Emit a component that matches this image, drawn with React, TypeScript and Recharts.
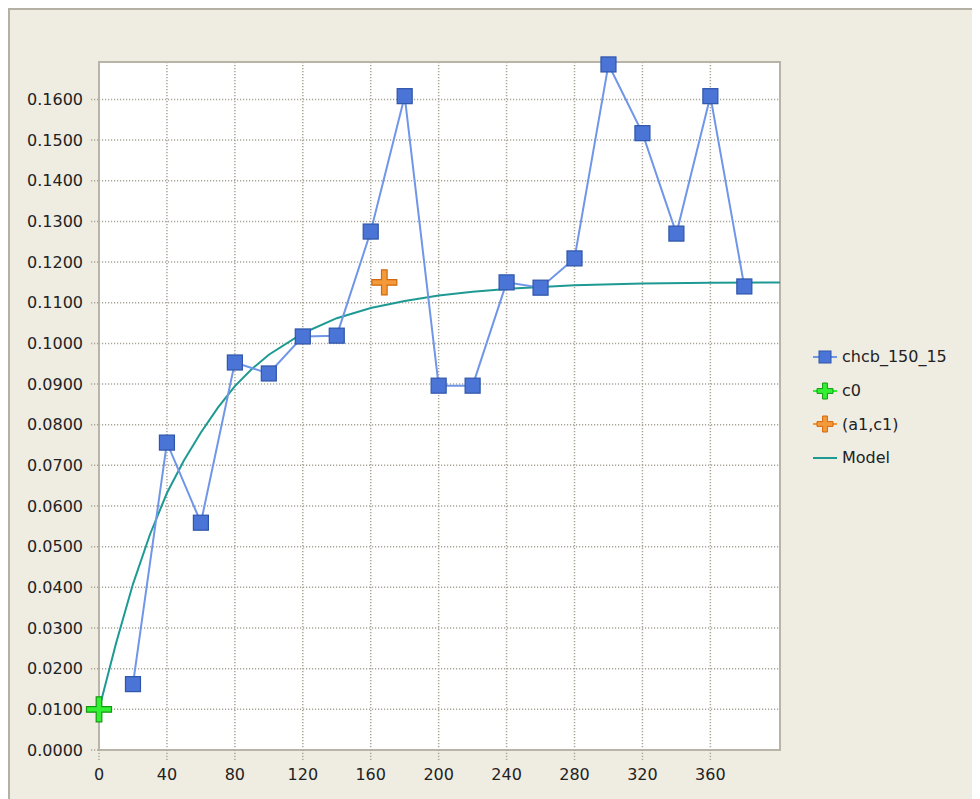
import React from "react";
import {
  ScatterChart,
  Scatter,
  XAxis,
  YAxis,
  CartesianGrid,
  ReferenceArea,
} from "recharts";

// ---- data ----
const lagValues = [20, 40, 60, 80, 100, 120, 140, 160, 180, 200, 220, 240, 260, 280, 300, 320, 340, 360, 380];
const semivariance = [
  0.0162, 0.0756, 0.0559, 0.0953, 0.0926, 0.1017, 0.1019, 0.1275, 0.1608, 0.0896,
  0.0896, 0.115, 0.1137, 0.1209, 0.1686, 0.1517, 0.127, 0.1608, 0.114,
];
const c0Point = [{ x: 0, y: 0.01 }];
const a1c1Point = [{ x: 168, y: 0.115 }];
const modelX = [0, 10, 20, 30, 40, 50, 60, 70, 80, 90, 100, 120, 140, 160, 180, 200, 220, 240, 280, 320, 360, 401];
const modelY = [
  0.01, 0.0262, 0.0408, 0.053, 0.0632, 0.0712, 0.0781, 0.0842, 0.0895, 0.0937, 0.0972, 0.1025,
  0.1062, 0.1087, 0.1104, 0.1118, 0.1127, 0.1134, 0.1143, 0.1147, 0.1149, 0.115,
];
const xTicks = [0, 40, 80, 120, 160, 200, 240, 280, 320, 360];
const yTicks = [0, 0.01, 0.02, 0.03, 0.04, 0.05, 0.06, 0.07, 0.08, 0.09, 0.1, 0.11, 0.12, 0.13, 0.14, 0.15, 0.16];
const seriesNames = ["chcb_150_15", "c0", "(a1,c1)", "Model"];

const X_MAX = 401;
const Y_MAX = 0.1692;

const chcbData = lagValues.map((x, i) => ({ x, y: semivariance[i] }));
const modelData = modelX.map((x, i) => ({ x, y: modelY[i] }));

const FONT = "'DejaVu Sans', Verdana, sans-serif";
const BLUE_LINE = "#7096E8";
const BLUE_FILL = "#4A74D6";
const BLUE_STROKE = "#2F55AA";
const GREEN_FILL = "#33F033";
const GREEN_STROKE = "#119A11";
const ORANGE_FILL = "#F59A3A";
const ORANGE_STROKE = "#D0680E";
const TEAL = "#1E9A93";
const GRID = "#A8A498";

const plusPath = (cx: number, cy: number, L: number, t: number) =>
  `M${cx - t},${cy - L} H${cx + t} V${cy - t} H${cx + L} V${cy + t} H${cx + t} V${cy + L} H${cx - t} V${cy + t} H${cx - L} V${cy - t} H${cx - t} Z`;

const SquareShape = (props: any) => {
  const { cx, cy } = props;
  if (cx == null || cy == null) return <g />;
  return <rect x={cx - 7.5} y={cy - 7.5} width={15} height={15} fill={BLUE_FILL} stroke={BLUE_STROKE} strokeWidth={1.2} />;
};

const makePlus = (fill: string, stroke: string) => (props: any) => {
  const { cx, cy } = props;
  if (cx == null || cy == null) return <g />;
  return <path d={plusPath(cx, cy, 12.5, 2.8)} fill={fill} stroke={stroke} strokeWidth={1.2} />;
};

const NoShape = () => <g />;

const LegendIcon = ({ kind }: { kind: number }) => {
  return (
    <svg width={30} height={24} style={{ display: "block" }}>
      {kind === 0 && (
        <>
          <line x1={1} y1={12} x2={25} y2={12} stroke={BLUE_LINE} strokeWidth={2} />
          <rect x={7} y={6} width={12} height={12} fill={BLUE_FILL} stroke={BLUE_STROKE} strokeWidth={1} />
        </>
      )}
      {kind === 1 && (
        <>
          <line x1={1} y1={12} x2={25} y2={12} stroke={GREEN_FILL} strokeWidth={2} />
          <path d={plusPath(13, 12, 8, 2.4)} fill={GREEN_FILL} stroke={GREEN_STROKE} strokeWidth={1} />
        </>
      )}
      {kind === 2 && (
        <>
          <line x1={1} y1={12} x2={25} y2={12} stroke={ORANGE_FILL} strokeWidth={2} />
          <path d={plusPath(13, 12, 8, 2.4)} fill={ORANGE_FILL} stroke={ORANGE_STROKE} strokeWidth={1} />
        </>
      )}
      {kind === 3 && <line x1={1} y1={12} x2={25} y2={12} stroke={TEAL} strokeWidth={2} />}
    </svg>
  );
};

const LegendContent = () => (
  <div style={{ fontFamily: FONT, fontSize: 16, color: "#222" }}>
    {seriesNames.map((name, i) => (
      <div key={name} style={{ display: "flex", alignItems: "center", height: 33.7 }}>
        <LegendIcon kind={i} />
        <span>{name}</span>
      </div>
    ))}
  </div>
);

export default function App() {
  return (
    <div
      style={{
        position: "relative",
        width: 972,
        height: 791,
        background: "#EFEDE2",
        borderTop: "2px solid #B4B0A3",
        borderLeft: "2px solid #B4B0A3",
        boxSizing: "border-box",
      }}
    >
      <div style={{ position: "absolute", left: -2, top: -2 }}>
        <ScatterChart width={972} height={791} margin={{ top: 54, right: 200, bottom: 19, left: 0 }}>
          <CartesianGrid stroke={GRID} strokeDasharray="1.2 1.8" fill="#FFFFFF" strokeWidth={1.5} />
          <XAxis
            type="number"
            dataKey="x"
            domain={[0, X_MAX]}
            ticks={xTicks}
            axisLine={false}
            tickSize={10}
            tickMargin={9}
            tickLine={{ stroke: GRID, strokeDasharray: "1.2 1.8", strokeWidth: 1.5 }}
            tick={{ fontFamily: FONT, fontSize: 16, fill: "#222" }}
            height={30}
          />
          <YAxis
            type="number"
            dataKey="y"
            domain={[0, Y_MAX]}
            ticks={yTicks}
            axisLine={false}
            tickSize={8}
            tickMargin={8}
            tickLine={{ stroke: GRID, strokeDasharray: "1.2 1.8", strokeWidth: 1.5 }}
            tick={{ fontFamily: FONT, fontSize: 16, fill: "#222" }}
            tickFormatter={(v: number) => v.toFixed(4)}
            width={91}
          />
          <ReferenceArea x1={0} x2={X_MAX} y1={0} y2={Y_MAX} fill="none" stroke="#B8B4A8" strokeWidth={2} />
          <Scatter
            name="Model"
            data={modelData}
            line={{ stroke: TEAL, strokeWidth: 2 }}
            lineType="joint"
            shape={NoShape}
            isAnimationActive={false}
          />
          <Scatter
            name="chcb_150_15"
            data={chcbData}
            line={{ stroke: BLUE_LINE, strokeWidth: 2 }}
            lineType="joint"
            shape={SquareShape}
            isAnimationActive={false}
          />
          <Scatter name="c0" data={c0Point} shape={makePlus(GREEN_FILL, GREEN_STROKE)} isAnimationActive={false} />
          <Scatter name="(a1,c1)" data={a1c1Point} shape={makePlus(ORANGE_FILL, ORANGE_STROKE)} isAnimationActive={false} />
        </ScatterChart>
      </div>
      <div style={{ position: "absolute", left: 802, top: 330 }}>
        <LegendContent />
      </div>
    </div>
  );
}
